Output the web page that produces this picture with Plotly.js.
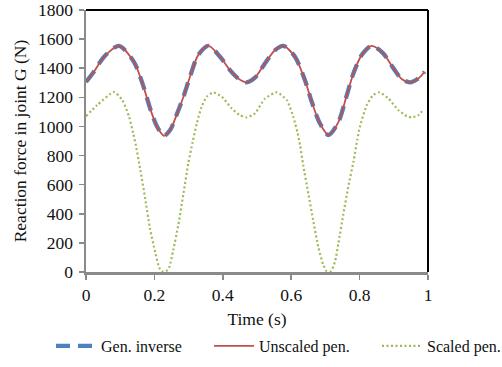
<!DOCTYPE html>
<html>
<head>
<meta charset="utf-8">
<script src="https://cdn.plot.ly/plotly-3.0.1.min.js"></script>
<style>html,body{margin:0;padding:0;background:#fff;}#chart{width:502px;height:367px;}</style>
</head>
<body>
<div id="chart"></div>
<script>
// Time (s) and reaction force (N)
const timeMain = [0, 0.023, 0.053, 0.096, 0.14, 0.165, 0.189, 0.208, 0.228, 0.246, 0.265, 0.285, 0.304, 0.328, 0.358, 0.392, 0.421, 0.445, 0.47, 0.494, 0.523, 0.553, 0.577, 0.611, 0.64, 0.66, 0.684, 0.709, 0.738, 0.762, 0.782, 0.806, 0.835, 0.869, 0.899, 0.923, 0.947, 0.972, 0.99];
const genInverse = [1305, 1376, 1479, 1554, 1444, 1296, 1113, 998, 936, 975, 1080, 1204, 1341, 1490, 1554, 1479, 1387, 1330, 1303, 1335, 1433, 1525, 1554, 1479, 1319, 1170, 1021, 941, 1030, 1210, 1365, 1490, 1554, 1502, 1399, 1326, 1303, 1330, 1376];
const unscaledPen = [1305, 1376, 1479, 1554, 1444, 1296, 1113, 998, 936, 975, 1080, 1204, 1341, 1490, 1554, 1479, 1387, 1330, 1303, 1335, 1433, 1525, 1554, 1479, 1319, 1170, 1021, 941, 1030, 1210, 1365, 1490, 1554, 1502, 1399, 1326, 1303, 1330, 1376];
const timeScaled = [0, 0.033, 0.082, 0.106, 0.126, 0.138, 0.145, 0.158, 0.173, 0.187, 0.202, 0.214, 0.222, 0.234, 0.243, 0.255, 0.27, 0.285, 0.299, 0.312, 0.324, 0.338, 0.353, 0.372, 0.397, 0.426, 0.45, 0.47, 0.494, 0.523, 0.558, 0.587, 0.606, 0.619, 0.626, 0.635, 0.65, 0.665, 0.679, 0.694, 0.704, 0.716, 0.728, 0.738, 0.752, 0.767, 0.782, 0.793, 0.801, 0.821, 0.84, 0.858, 0.884, 0.913, 0.938, 0.952, 0.972, 0.988];
const scaledPen = [1071, 1147, 1236, 1181, 1067, 952, 880, 712, 506, 300, 139, 30, 5, 5, 30, 151, 323, 540, 746, 895, 1021, 1135, 1204, 1234, 1204, 1124, 1078, 1062, 1090, 1190, 1234, 1181, 1067, 952, 870, 735, 540, 346, 174, 48, 5, 5, 71, 197, 391, 586, 758, 907, 998, 1147, 1216, 1234, 1193, 1113, 1071, 1062, 1078, 1120];
const seriesNames = ["Gen. inverse", "Unscaled pen.", "Scaled pen."];
const xTicks = [0, 0.2, 0.4, 0.6, 0.8, 1];
const xTickText = ["0", "0.2", "0.4", "0.6", "0.8", "1"];
const yTicks = [0, 200, 400, 600, 800, 1000, 1200, 1400, 1600, 1800];

const serif = "Liberation Serif, serif";
const txt = {family: serif, size: 17.5, color: "#111"};
const legFont = {family: serif, size: 16, color: "#111"};

const traces = [
  {x: timeMain, y: genInverse, name: seriesNames[0], mode: "lines", legend: "legend",
   line: {color: "#4F81BD", width: 4.3, dash: "14px,8px", shape: "spline", smoothing: 0.8}},
  {x: timeMain, y: unscaledPen, name: seriesNames[1], mode: "lines", legend: "legend2",
   line: {color: "#C0504D", width: 1.8, shape: "spline", smoothing: 0.8}},
  {x: timeScaled, y: scaledPen, name: seriesNames[2], mode: "lines", legend: "legend3",
   line: {color: "#9BBB59", width: 2.2, dash: "2px,2.5px", shape: "spline", smoothing: 0.6}}
];

function leg(px) {
  return {orientation: "h", x: px / 502, xref: "container", xanchor: "left",
          y: 1 - 346 / 367, yref: "container", yanchor: "middle",
          itemwidth: 40, font: legFont, bgcolor: "rgba(0,0,0,0)"};
}

const layout = {
  width: 502, height: 367,
  margin: {l: 86, r: 74, t: 10, b: 95, autoexpand: false},
  paper_bgcolor: "#fff", plot_bgcolor: "#fff",
  font: txt,
  showlegend: true,
  legend: leg(51),
  legend2: leg(209),
  legend3: leg(377),
  xaxis: {range: [0, 1], tickvals: xTicks, ticktext: xTickText, tickfont: txt,
          showgrid: false, zeroline: false, showline: true, linecolor: "#8a8a8a", linewidth: 2.5,
          ticks: "outside", ticklen: 5, tickcolor: "#8a8a8a", tickwidth: 1.5,
          title: {text: "Time (s)", font: txt, standoff: 9},
          fixedrange: true, automargin: true},
  yaxis: {range: [0, 1800], tickvals: yTicks, tickfont: txt, ticklabelstandoff: 2,
          showgrid: false, zeroline: false, showline: true, linecolor: "#8a8a8a", linewidth: 2.5,
          ticks: "outside", ticklen: 5, tickcolor: "#8a8a8a", tickwidth: 1.5,
          title: {text: "Reaction force in joint G (N)", font: txt, standoff: 7},
          fixedrange: true, automargin: true},
  shapes: [
    {type: "line", xref: "paper", yref: "paper", x0: 0, x1: 1, y0: 1, y1: 1, line: {color: "#000", width: 2}},
    {type: "line", xref: "paper", yref: "paper", x0: 1, x1: 1, y0: 0, y1: 1, line: {color: "#000", width: 2}}
  ]
};

Plotly.newPlot("chart", traces, layout, {displayModeBar: false, staticPlot: true});
</script>
</body>
</html>
